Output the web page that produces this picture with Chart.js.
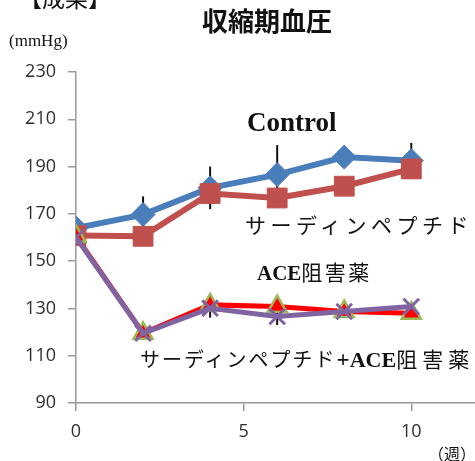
<!DOCTYPE html>
<html lang="ja">
<head>
  <meta charset="UTF-8" />
  <title>収縮期血圧</title>
  <script src="https://cdn.jsdelivr.net/npm/chart.js"></script>
  <style>
    body { margin: 0; background: #fff; }
    #wrap { position: relative; width: 475px; height: 461px; overflow: hidden; }
    canvas { position: absolute; left: 0; top: 0; }
    .lbl { position: absolute; white-space: nowrap; line-height: 1; color: #111; }
    .jp { font-family: "Noto Sans CJK JP", sans-serif; }
    .serif { font-family: "Liberation Serif", "DejaVu Serif", serif; }
  </style>
</head>
<body>
  <div id="wrap">
    <canvas id="bpChart" width="475" height="461"></canvas>
    <div class="lbl jp" style="left:19px; top:-14px; font-size:23px;">【成果】</div>
    <div class="lbl serif" style="left:9px; top:32px; font-size:17px;">(mmHg)</div>
    <div class="lbl jp" style="left:202px; top:7px; font-size:26px; font-weight:bold;">収縮期血圧</div>
    <div class="lbl serif" style="left:247px; top:109px; font-size:27px; font-weight:bold;">Control</div>
    <div class="lbl jp" style="left:245px; top:214px; font-size:21px; letter-spacing:4.5px;">サーディンペプチド</div>
    <div class="lbl" style="left:257px; top:261px; font-size:21px;"><span class="serif" style="font-weight:bold;">ACE</span><span class="jp" style="letter-spacing:2.5px;">阻害薬</span></div>
    <div class="lbl" style="left:140px; top:348px; font-size:22px;"><span class="jp" style="font-size:20px; letter-spacing:2px;">サーディンペプチド</span><span class="serif" style="font-weight:bold; font-size:23px;">+</span><span class="serif" style="font-weight:bold;">ACE</span><span class="jp" style="font-size:21px; letter-spacing:5px;">阻害薬</span></div>
    <div class="lbl jp" style="left:428px; top:445px; font-size:16px;">（週）</div>
  </div>

  <script>
    const weeks = [0, 2, 4, 6, 8, 10];
    const control = [164, 169.7, 181, 186.6, 194, 192.5];
    const controlErr = [0, 7.7, 9, 12.5, 3, 7.5];
    const sardine = [160.8, 160.5, 178.6, 176.7, 181.7, 189];
    const ace = [160.5, 119.5, 131.5, 130.8, 128.7, 128];
    const combo = [160, 119.5, 130.1, 126.6, 128.7, 130.8];
    const comboErr = [0, 0, 4, 3.6, 0, 0];
    const yTicks = [90, 110, 130, 150, 170, 190, 210, 230];
    const xTicks = [0, 5, 10];

    const toPoints = (vals) => weeks.map((w, i) => ({ x: w, y: vals[i] }));

    // error bars drawn behind the markers
    const errorBars = {
      id: 'errorBars',
      beforeDatasetsDraw(chart) {
        const ctx = chart.ctx;
        const ys = chart.scales.y, xs = chart.scales.x;
        const draw = (vals, errs) => {
          weeks.forEach((w, i) => {
            if (!errs[i]) return;
            const px = xs.getPixelForValue(w);
            ctx.beginPath();
            ctx.moveTo(px, ys.getPixelForValue(vals[i] - errs[i]));
            ctx.lineTo(px, ys.getPixelForValue(vals[i] + errs[i]));
            ctx.stroke();
          });
        };
        ctx.save();
        ctx.strokeStyle = '#111';
        ctx.lineWidth = 2;
        draw(control, controlErr);
        draw(combo, comboErr);
        ctx.restore();
      }
    };

    const ctx = document.getElementById('bpChart').getContext('2d');
    const chart = new Chart(ctx, {
      type: 'line',
      data: {
        datasets: [
          {
            label: 'Control',
            data: toPoints(control),
            borderColor: '#4A7EBB',
            backgroundColor: '#4A7EBB',
            borderWidth: 6,
            pointStyle: 'rectRot',
            pointRadius: 12,
            pointBorderWidth: 1,
            order: 3
          },
          {
            label: 'サーディンペプチド',
            data: toPoints(sardine),
            borderColor: '#C0504D',
            backgroundColor: '#C0504D',
            borderWidth: 6,
            pointStyle: 'rect',
            pointRadius: 14,
            pointBorderWidth: 1,
            order: 2
          },
          {
            label: 'ACE阻害薬',
            data: toPoints(ace),
            borderColor: '#FF0000',
            backgroundColor: '#FF0000',
            borderWidth: 5,
            pointStyle: 'triangle',
            pointRadius: 11,
            pointBorderColor: '#9BBB59',
            pointBorderWidth: 2.5,
            order: 1
          },
          {
            label: 'サーディンペプチド+ACE阻害薬',
            data: toPoints(combo),
            borderColor: '#8064A2',
            backgroundColor: '#8064A2',
            borderWidth: 5,
            pointStyle: 'crossRot',
            pointRadius: 11,
            pointBorderWidth: 3,
            order: 0
          }
        ]
      },
      options: {
        responsive: false,
        animation: false,
        devicePixelRatio: 1,
        layout: { autoPadding: false, padding: { top: 72, left: 0, right: 0, bottom: 0 } },
        plugins: {
          legend: { display: false },
          tooltip: { enabled: false },
          title: { display: false }
        },
        elements: { line: { tension: 0 } },
        scales: {
          x: {
            type: 'linear',
            min: 0,
            max: 11.9,
            afterBuildTicks: (s) => { s.ticks = xTicks.map(v => ({ value: v })); },
            afterFit: (s) => { s.height = 58; s.paddingRight = 0; s.paddingLeft = 0; },
            grid: { drawOnChartArea: false, drawTicks: true, tickLength: 8, color: '#9a9a9a', lineWidth: 1.5 },
            border: { color: '#9a9a9a', width: 1.5 },
            ticks: { padding: 10, color: '#2e2e2e', font: { family: 'Open Sans', size: 18 } }
          },
          y: {
            min: 90,
            max: 230,
            afterBuildTicks: (s) => { s.ticks = yTicks.map(v => ({ value: v })); },
            afterFit: (s) => { s.width = 76; },
            grid: { drawOnChartArea: false, drawTicks: true, tickLength: 8, color: '#9a9a9a', lineWidth: 1.5 },
            border: { color: '#9a9a9a', width: 1.5 },
            ticks: { padding: 12, color: '#2e2e2e', font: { family: 'Open Sans', size: 18 } }
          }
        }
      },
      plugins: [errorBars]
    });
  </script>
</body>
</html>
